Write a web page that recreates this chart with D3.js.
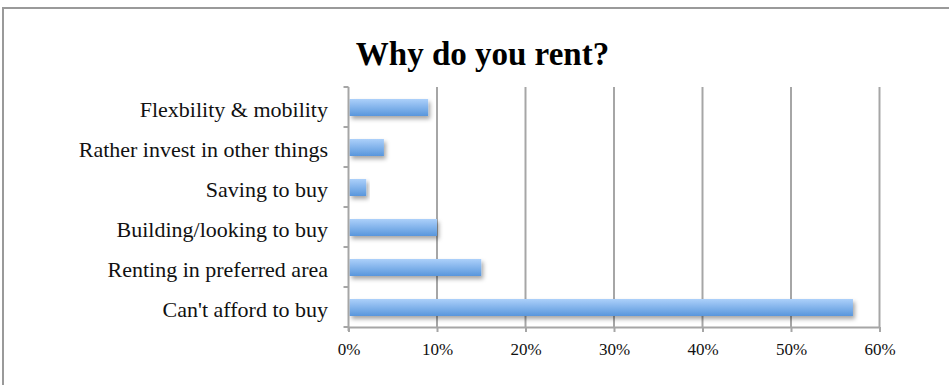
<!DOCTYPE html>
<html>
<head>
<meta charset="utf-8">
<script src="https://cdn.jsdelivr.net/npm/d3@7"></script>
<style>
  html, body { margin: 0; padding: 0; background: #fff; }
  svg { display: block; }
</style>
</head>
<body>
<svg id="chart" width="949" height="385"></svg>
<script>
// Reasons for renting, share of respondents
const categories = [
  "Flexbility & mobility",
  "Rather invest in other things",
  "Saving to buy",
  "Building/looking to buy",
  "Renting in preferred area",
  "Can't afford to buy"
];
const values = [0.09, 0.04, 0.02, 0.10, 0.15, 0.57];
const tickValues = [0, 0.1, 0.2, 0.3, 0.4, 0.5, 0.6];
const title = "Why do you rent?";

const svg = d3.select("#chart");
const serif = "'Liberation Serif', 'DejaVu Serif', serif";
const gridColor = "#a6a6a6";

// Outer chart frame
svg.append("rect")
  .attr("x", 3).attr("y", 8)
  .attr("width", 1000).attr("height", 500)
  .attr("fill", "#fff")
  .attr("stroke", "#9a9a9a")
  .attr("stroke-width", 2);

const defs = svg.append("defs");
const grad = defs.append("linearGradient")
  .attr("id", "barFill").attr("x1", 0).attr("y1", 0).attr("x2", 0).attr("y2", 1);
grad.append("stop").attr("offset", "0%").attr("stop-color", "#acd0fa");
grad.append("stop").attr("offset", "100%").attr("stop-color", "#5896dc");

const shadow = defs.append("filter")
  .attr("id", "barShadow")
  .attr("x", "-10%").attr("y", "-50%").attr("width", "130%").attr("height", "220%");
shadow.append("feDropShadow")
  .attr("dx", 2).attr("dy", 3).attr("stdDeviation", 2)
  .attr("flood-color", "#000").attr("flood-opacity", 0.35);

const plotLeft = 348.5, plotRight = 879.5, plotTop = 87, plotBottom = 327;

const x = d3.scaleLinear().domain([0, 0.6]).range([plotLeft, plotRight]);
const y = d3.scaleBand().domain(categories).range([plotTop, plotBottom]).paddingInner(0).paddingOuter(0);

// Title
svg.append("text")
  .attr("x", 482.5).attr("y", 65)
  .attr("text-anchor", "middle")
  .attr("font-family", serif)
  .attr("font-weight", "bold")
  .attr("font-size", 33)
  .attr("fill", "#000")
  .text(title);

// Vertical gridlines (the zero line is drawn by the axis)
svg.append("g")
  .selectAll("line")
  .data(tickValues.slice(1))
  .join("line")
  .attr("x1", d => x(d)).attr("x2", d => x(d))
  .attr("y1", plotTop).attr("y2", plotBottom)
  .attr("stroke", gridColor).attr("stroke-width", 2);

// Bars
const barH = 17;
svg.append("g")
  .selectAll("rect")
  .data(categories)
  .join("rect")
  .attr("x", x(0) + 1)
  .attr("y", d => y(d) + y.bandwidth() / 2 - barH / 2 + 0.5)
  .attr("width", (d, i) => x(values[i]) - x(0) - 1)
  .attr("height", barH)
  .attr("fill", "url(#barFill)")
  .attr("filter", "url(#barShadow)");

// X axis
const xAxis = svg.append("g")
  .attr("transform", `translate(0,${plotBottom})`)
  .call(d3.axisBottom(x).tickValues(tickValues).tickFormat(d3.format(".0%")).tickSize(5).tickSizeOuter(0));
xAxis.select(".domain").attr("stroke", gridColor).attr("stroke-width", 2);
xAxis.selectAll(".tick line").attr("stroke", gridColor).attr("stroke-width", 2);
xAxis.selectAll(".tick text")
  .attr("font-family", serif).attr("font-size", 17).attr("fill", "#111")
  .attr("y", 0).attr("dy", 0)
  .attr("transform", "translate(0,28)");

// Y axis: ticks at band boundaries
const yAxis = svg.append("g");
yAxis.append("line")
  .attr("x1", x(0)).attr("x2", x(0))
  .attr("y1", plotTop).attr("y2", plotBottom + 4)
  .attr("stroke", gridColor).attr("stroke-width", 2);
const boundaries = categories.map(d => y(d)).concat([plotBottom]);
yAxis.selectAll("line.tick")
  .data(boundaries)
  .join("line")
  .attr("class", "tick")
  .attr("x1", x(0) - 5).attr("x2", x(0))
  .attr("y1", d => d).attr("y2", d => d)
  .attr("stroke", gridColor).attr("stroke-width", 2);

// Category labels
svg.append("g")
  .selectAll("text")
  .data(categories)
  .join("text")
  .attr("x", 328)
  .attr("y", d => y(d) + y.bandwidth() / 2 + 9.5)
  .attr("text-anchor", "end")
  .attr("font-family", serif)
  .attr("font-size", 22)
  .attr("fill", "#111")
  .text(d => d);
</script>
</body>
</html>
